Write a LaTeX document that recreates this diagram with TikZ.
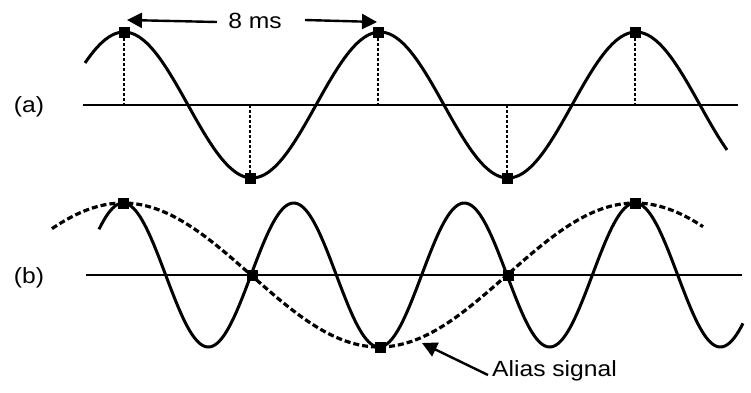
\documentclass[tikz,border=0pt]{standalone}
\usepackage{fontspec}
\setmainfont{Liberation Sans}
\usetikzlibrary{arrows.meta}
\begin{document}
\begin{tikzpicture}[x=1pt,y=-1pt,
  axisline/.style={line width=2.4pt},
  wave/.style={line width=3pt},
  aliaswave/.style={line width=3.2pt, dash pattern=on 6pt off 3pt},
  dropline/.style={line width=2.2pt, dash pattern=on 3pt off 2pt},
  sample/.style={fill=black, minimum size=11pt, inner sep=0pt, outer sep=0pt},
  lbl/.style={font=\fontsize{22}{24}\selectfont, inner sep=0pt},
  arr/.style={line width=2.4pt, -{Triangle[length=15pt,width=15pt]}}]
\useasboundingbox (0,0) rectangle (751,392);

% ---------- (a) ----------
\node[lbl] (la) at (29,107) {\scalebox{1.12}[1]{(a)}};
\coordinate (a0) at (83,105);
\coordinate (a1) at (738,105);
\draw[axisline] (a0) -- (a1);
\draw[wave] plot[domain=85:727, samples=220] (\x,{105-73*cos((\x-124)*1.40625)});

\node[sample] (s1) at (124,32) {};
\node[sample] (s2) at (250,178) {};
\node[sample] (s3) at (378,32) {};
\node[sample] (s4) at (507,178) {};
\node[sample] (s5) at (635,32) {};
\foreach \n/\xx in {s1/124,s2/250,s3/378,s4/507,s5/635}{
  \coordinate (\n a) at (\xx,105);
  \draw[dropline] (\n) -- (\n a);
}

\node[lbl] (ms) at (255,21) {\scalebox{1.12}[1]{8 ms}};
\coordinate (msl) at (127,20);
\coordinate (msr) at (377,22);
\draw[arr] ([xshift=-38pt,yshift=-1pt]ms.center) -- (msl);
\draw[arr] ([xshift=50pt,yshift=1pt]ms.center) -- (msr);

% ---------- (b) ----------
\node[lbl] (lb) at (29,278) {\scalebox{1.12}[1]{(b)}};
\coordinate (b0) at (86,275);
\coordinate (b1) at (742,275);
\draw[axisline] (b0) -- (b1);
\draw[wave] plot[domain=99:743, samples=300] (\x,{275-72*cos((\x-123)*2.109375)});
\draw[aliaswave] plot[domain=52:703, samples=220] (\x,{275-72*cos((\x-123)*0.703125)});

\node[sample] (t1) at (123,203) {};
\node[sample] (t2) at (252,275) {};
\node[sample] (t3) at (380,347) {};
\node[sample] (t4) at (508,275) {};
\node[sample] (t5) at (635,203) {};

\node[lbl, anchor=west] (alias) at (492,371) {\scalebox{1.12}[1]{Alias signal}};
\coordinate (aliastip) at (422,343);
\draw[arr] ([xshift=-4pt,yshift=-4pt]alias.west) -- (aliastip);
\end{tikzpicture}
\end{document}
